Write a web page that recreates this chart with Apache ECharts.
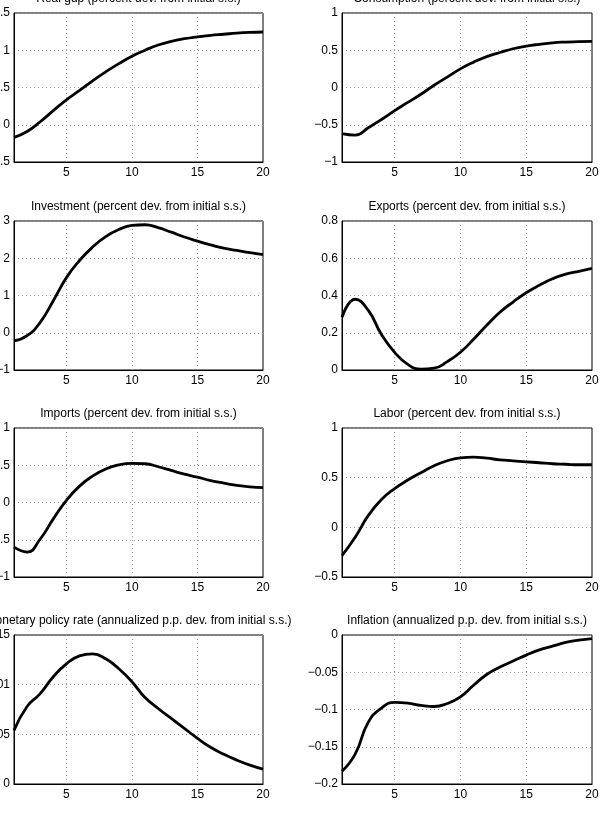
<!DOCTYPE html>
<html>
<head>
<meta charset="utf-8">
<script src="https://cdn.jsdelivr.net/npm/echarts@6/dist/echarts.min.js"></script>
<style>
  html, body { margin: 0; padding: 0; background: #fff; }
  #chart { width: 601px; height: 822px; }
</style>
</head>
<body>
<div id="chart"></div>
<script>
// --- Impulse responses, periods 1..20 ---

const periods = ['1','2','3','4','5','6','7','8','9','10','11','12','13','14','15','16','17','18','19','20'];

const titles = [
    'Real gdp (percent dev. from initial s.s.)',
    'Consumption (percent dev. from initial s.s.)',
    'Investment (percent dev. from initial s.s.)',
    'Exports (percent dev. from initial s.s.)',
    'Imports (percent dev. from initial s.s.)',
    'Labor (percent dev. from initial s.s.)',
    'Monetary policy rate (annualized p.p. dev. from initial s.s.)',
    'Inflation (annualized p.p. dev. from initial s.s.)'
];

const realGdp = [-0.17, -0.09, 0.04, 0.19, 0.335, 0.46, 0.59, 0.71, 0.82, 0.92, 1.00, 1.07, 1.12, 1.155, 1.18, 1.20, 1.215, 1.23, 1.24, 1.245];
const consumption = [-0.62, -0.64, -0.54, -0.43, -0.31, -0.20, -0.09, 0.03, 0.14, 0.25, 0.34, 0.415, 0.47, 0.52, 0.555, 0.58, 0.60, 0.61, 0.615, 0.62];
const investment = [-0.22, -0.08, 0.28, 0.86, 1.48, 1.94, 2.30, 2.58, 2.77, 2.88, 2.90, 2.82, 2.70, 2.57, 2.46, 2.36, 2.27, 2.21, 2.15, 2.10];
const exportsDev = [0.283, 0.38, 0.32, 0.19, 0.095, 0.03, 0.005, 0.01, 0.045, 0.095, 0.165, 0.24, 0.31, 0.365, 0.415, 0.455, 0.49, 0.515, 0.53, 0.545];
const importsDev = [-0.60, -0.665, -0.49, -0.22, 0.03, 0.22, 0.355, 0.45, 0.505, 0.525, 0.52, 0.48, 0.43, 0.38, 0.34, 0.295, 0.26, 0.23, 0.21, 0.20];
const labor = [-0.284, -0.10, 0.12, 0.28, 0.39, 0.476, 0.55, 0.62, 0.67, 0.70, 0.706, 0.696, 0.68, 0.67, 0.66, 0.65, 0.64, 0.635, 0.63, 0.63];
const policyRate = [0.0054, 0.0078, 0.0091, 0.0108, 0.0121, 0.0129, 0.0131, 0.0126, 0.0116, 0.0103, 0.0087, 0.0076, 0.0066, 0.0056, 0.0046, 0.0037, 0.0030, 0.0024, 0.0019, 0.0015];
const inflation = [-0.183, -0.16, -0.117, -0.098, -0.0905, -0.0915, -0.0945, -0.096, -0.092, -0.083, -0.0675, -0.053, -0.043, -0.035, -0.027, -0.020, -0.015, -0.010, -0.007, -0.005];

const seriesData = [realGdp, consumption, investment, exportsDev, importsDev, labor, policyRate, inflation];

// y axis ranges [min, max, step]
const yRanges = [
    [-0.5, 1.5, 0.5],
    [-1, 1, 0.5],
    [-1, 3, 1],
    [0, 0.8, 0.2],
    [-1, 1, 0.5],
    [-0.5, 1, 0.5],
    [0, 0.015, 0.005],
    [-0.2, 0, 0.05]
];

// panel geometry
const colLeft = [14, 342];
const colWidth = [249, 250];
const rowTop = [13, 221, 428, 635];
const plotHeight = 149;

const font = 'Liberation Sans, Arial, Helvetica, sans-serif';
const dotted = { color: '#9a9a9a', width: 1, type: [1, 3] };

const grids = [], xAxes = [], yAxes = [], series = [], titleList = [];

seriesData.forEach((data, i) => {
    const col = i % 2, row = Math.floor(i / 2);
    const left = colLeft[col], top = rowTop[row], w = colWidth[col];
    const r = yRanges[i];

    grids.push({
        left: left, top: top, width: w, height: plotHeight,
        outerBoundsMode: 'none',
        containLabel: false,
        show: true, borderColor: '#000', borderWidth: 1, backgroundColor: '#fff'
    });

    titleList.push({
        text: titles[i],
        left: left + w / 2,
        top: top - 20,
        textAlign: 'center',
        padding: 0,
        textStyle: { fontFamily: font, fontSize: 12, fontWeight: 'normal', color: '#000' }
    });

    xAxes.push({
        type: 'category',
        gridIndex: i,
        data: periods,
        boundaryGap: false,
        axisLine: { show: true, onZero: false, lineStyle: { color: '#000', width: 1 } },
        axisTick: { show: false },
        axisLabel: {
            interval: (idx, val) => Number(val) % 5 === 0,
            color: '#000', fontFamily: font, fontSize: 12, margin: 5
        },
        splitLine: {
            show: true,
            interval: (idx, val) => Number(val) % 5 === 0 && val !== '20',
            lineStyle: dotted
        }
    });

    yAxes.push({
        type: 'value',
        gridIndex: i,
        min: r[0], max: r[1], interval: r[2],
        axisLine: { show: true, onZero: false, lineStyle: { color: '#000', width: 1 } },
        axisTick: { show: false },
        axisLabel: {
            color: '#000', fontFamily: font, fontSize: 12, margin: 4,
            formatter: v => String(+v.toFixed(4)).replace('-', '\u2212')
        },
        splitLine: { show: true, lineStyle: dotted }
    });

    series.push({
        type: 'line',
        xAxisIndex: i,
        yAxisIndex: i,
        data: data,
        smooth: 0.5,
        showSymbol: false,
        lineStyle: { color: '#000', width: 2.8 },
        z: 5
    });
});

const chart = echarts.init(document.getElementById('chart'), null, { renderer: 'canvas' });
chart.setOption({
    animation: false,
    backgroundColor: '#fff',
    title: titleList,
    grid: grids,
    xAxis: xAxes,
    yAxis: yAxes,
    series: series
});
</script>
</body>
</html>
